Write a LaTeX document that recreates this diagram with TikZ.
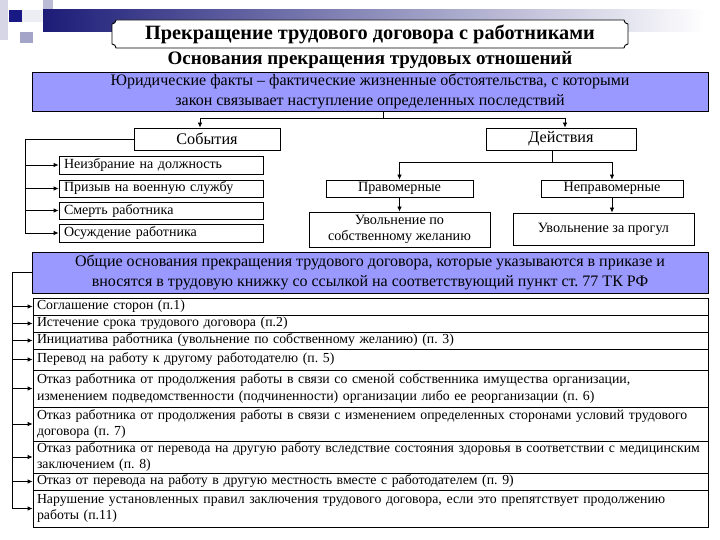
\documentclass[tikz,border=0pt]{standalone}
\usepackage{fontspec}
\setmainfont{Liberation Serif}
\usetikzlibrary{arrows.meta,shapes.misc,calc}
\definecolor{bluefill}{RGB}{153,153,255}
\definecolor{navy}{RGB}{28,28,120}
\frenchspacing
\begin{document}
\begin{tikzpicture}[x=1pt,y=-1pt,
  con/.style={line width=0.8pt},
  arr/.style={-{Latex[length=5pt,width=4.5pt]}, line width=0.8pt},
  box/.style={draw, line width=0.8pt, fill=white, inner sep=0pt, align=center, font=\fontsize{14.2}{16}\selectfont},
  lbox/.style={draw, line width=0.8pt, fill=white, inner xsep=5pt, inner ysep=0pt, text width=194pt, align=left, font=\fontsize{14}{16}\selectfont},
  bluebox/.style={draw, line width=0.8pt, fill=bluefill, inner sep=0pt, align=center, font=\fontsize{16}{19.5}\selectfont},
  row/.style={draw, line width=0.8pt, fill=white, inner xsep=4pt, inner ysep=0pt, text width=667pt, align=left, font=\fontsize{13.8}{16.5}\selectfont},
  plaque/.style={draw, line width=0.9pt, fill=white},
  titletext/.style={inner sep=0pt, font=\fontsize{20.3}{22}\selectfont\bfseries},
]
\useasboundingbox (0,0) rectangle (720,540);
\fill[white] (0,0) rectangle (720,540);
% decoration
\fill[navy!18!white] (0,0) rectangle (8,40);
\fill[navy!30!white] (43,0) rectangle (53,22);
\fill[navy!8!white] (22,10) rectangle (43,22);
\fill[navy!40!white] (20,32) rectangle (33,43);
\shade[left color=navy, middle color=navy!45!white, right color=white] (43,10) rectangle (705,32);
\fill[navy!90!blue] (9,10) rectangle (22,22);
% title plaque (concave corners)
\draw[plaque] (116,20) -- (624,20) .. controls (624,22.2) and (625.8,24) .. (628,24)
  -- (628,44) .. controls (625.8,44) and (624,45.8) .. (624,48)
  -- (116,48) .. controls (116,45.8) and (114.2,44) .. (112,44)
  -- (112,24) .. controls (114.2,24) and (116,22.2) .. (116,20) -- cycle;
\node[titletext] (title) at (370,34) {Прекращение трудового договора с работниками};
\node[font=\fontsize{19}{21}\selectfont\bfseries] (sub) at (370,60) {Основания прекращения трудовых отношений};
% blue box 1
\node[bluebox, minimum width=676pt, minimum height=39pt] (blue1) at (370,91.5)
  {Юридические факты – фактические жизненные обстоятельства, с которыми\\ закон связывает наступление определенных последствий};
\node[box, minimum width=146pt, minimum height=22pt, font=\fontsize{16.2}{17}\selectfont] (sob) at (207,139) {События};
\node[box, minimum width=150pt, minimum height=22pt, font=\fontsize{16.2}{17}\selectfont] (dei) at (561,139) {Действия};
\node[lbox, minimum height=18pt] (n1) at (161,165) {Неизбрание на должность};
\node[lbox, minimum height=17pt] (n2) at (161,188.5) {Призыв на военную службу};
\node[lbox, minimum height=17pt] (n3) at (161,210.5) {Смерть работника};
\node[lbox, minimum height=18pt] (n4) at (161,233) {Осуждение работника};
\node[box, minimum width=147pt, minimum height=17pt] (prav) at (399.5,188.5) {Правомерные};
\node[box, minimum width=142pt, minimum height=17pt] (neprav) at (612,188.5) {Неправомерные};
\node[box, minimum width=181pt, minimum height=35pt] (uv1) at (399.5,229.5) {Увольнение по\\ собственному желанию};
\node[box, minimum width=181pt, minimum height=32pt] (uv2) at (603.5,229) {Увольнение за прогул};
% blue box 2
\node[bluebox, minimum width=676pt, minimum height=41pt] (blue2) at (370,272.5)
  {Общие основания прекращения трудового договора, которые указываются в приказе и\\ вносятся в трудовую книжку со ссылкой на соответствующий пункт ст. 77 ТК РФ};
% rows
\node[row, minimum height=17pt] (r1) at (370.5,306.5) {Соглашение сторон (п.1)};
\node[row, minimum height=17pt] (r2) at (370.5,323.5) {Истечение срока трудового договора (п.2)};
\node[row, minimum height=17pt] (r3) at (370.5,340.5) {Инициатива работника (увольнение по собственному желанию) (п. 3)};
\node[row, minimum height=21pt] (r4) at (370.5,359.5) {Перевод на работу к другому работодателю (п. 5)};
\node[row, minimum height=37pt] (r5) at (370.5,388.5) {Отказ работника от продолжения работы в связи со сменой собственника имущества организации,\\ изменением подведомственности (подчиненности) организации либо ее реорганизации (п. 6)};
\node[row, minimum height=34pt] (r6) at (370.5,424) {Отказ работника от продолжения работы в связи с изменением определенных сторонами условий трудового\\ договора (п. 7)};
\node[row, minimum height=32pt] (r7) at (370.5,457) {Отказ работника от перевода на другую работу вследствие состояния здоровья в соответствии с медицинским\\ заключением (п. 8)};
\node[row, minimum height=17pt] (r8) at (370.5,481.5) {Отказ от перевода на работу в другую местность вместе с работодателем (п. 9)};
\node[row, minimum height=37pt] (r9) at (370.5,508.5) {Нарушение установленных правил заключения трудового договора, если это препятствует продолжению\\ работы (п.11)};
% connectors top
\coordinate (t1) at (383,118);
\draw[con] (t1 |- blue1.south) -- (t1);
\draw[arr] (t1) -| ([xshift=-7pt]sob.north);
\draw[arr] (t1) -| ([xshift=4pt]dei.north);
% events
\coordinate (lb) at (25,139);
\draw[con] (sob.west) -- (lb) -- (lb |- n4.west);
\foreach \n in {n1,n2,n3,n4} \draw[arr] (lb |- \n.west) -- (\n.west);
% actions
\coordinate (d1) at (552,162);
\draw[con] (d1 |- dei.south) -- (d1);
\draw[arr] (d1) -| (prav.north);
\draw[arr] (d1) -| (neprav.north);
\draw[arr] (prav.south) -- (uv1.north);
\draw[arr] (neprav.south) -- (neprav.south |- uv2.north);
% list
\coordinate (lc) at (12,272.5);
\draw[con] (blue2.west) -- (lc) -- (lc |- r9.west);
\foreach \n in {r1,r2,r3,r4,r5,r6,r7,r8,r9} \draw[arr] (lc |- \n.west) -- (\n.west);
\end{tikzpicture}
\end{document}
